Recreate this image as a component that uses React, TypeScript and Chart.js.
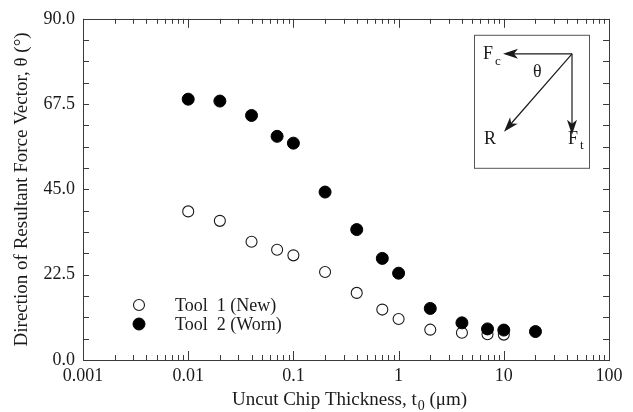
import React, { useEffect, useRef } from 'react';
import { Chart, registerables } from 'chart.js';

Chart.register(...registerables);

// ---- data ----
const thicknessNew = [0.01, 0.02, 0.04, 0.07, 0.1, 0.2, 0.4, 0.7, 1, 2, 4, 7, 10];
const angleNew = [39.2, 36.7, 31.2, 29.1, 27.6, 23.2, 17.7, 13.3, 10.8, 8.0, 7.2, 6.8, 6.7];
const thicknessWorn = [0.01, 0.02, 0.04, 0.07, 0.1, 0.2, 0.4, 0.7, 1, 2, 4, 7, 10, 20];
const angleWorn = [68.8, 68.3, 64.5, 59.0, 57.2, 44.3, 34.4, 26.8, 22.9, 13.6, 9.8, 8.2, 7.9, 7.5];
const seriesLabels = ['Tool  1 (New)', 'Tool  2 (Worn)'];
const xTickValues = [0.001, 0.01, 0.1, 1, 10, 100];
const yTickValues = [0, 22.5, 45, 67.5, 90];
const yMinorStep = 5.625;
const xTitleMain = 'Uncut Chip Thickness, t';
const xTitleSub = '0';
const xTitleTail = ' (\u03bcm)';
const yTitle = 'Direction of Resultant Force Vector, \u03b8 (\u00b0)';

const FONT = '"Liberation Serif", "Times New Roman", serif';
const INK = '#1a1a1a';
const FRAME = '#3a3a3a';

function arrow(ctx: CanvasRenderingContext2D, x0: number, y0: number, x1: number, y1: number) {
  const ang = Math.atan2(y1 - y0, x1 - x0);
  const len = 15;
  const hw = 5;
  ctx.beginPath();
  ctx.moveTo(x0, y0);
  ctx.lineTo(x1 - Math.cos(ang) * 9, y1 - Math.sin(ang) * 9);
  ctx.stroke();
  ctx.beginPath();
  ctx.moveTo(x1, y1);
  const bx = x1 - Math.cos(ang) * len;
  const by = y1 - Math.sin(ang) * len;
  const nx = -Math.sin(ang);
  const ny = Math.cos(ang);
  ctx.lineTo(bx + nx * hw, by + ny * hw);
  ctx.lineTo(x1 - Math.cos(ang) * (len - 4), y1 - Math.sin(ang) * (len - 4));
  ctx.lineTo(bx - nx * hw, by - ny * hw);
  ctx.closePath();
  ctx.fill();
}

const framePlugin = {
  id: 'frameTicks',
  beforeDatasetsDraw(chart: any) {
    const { ctx, chartArea: ca, scales } = chart;
    const xs = scales.x;
    const ys = scales.y;
    ctx.save();
    ctx.strokeStyle = FRAME;
    ctx.lineWidth = 1;
    ctx.strokeRect(Math.round(ca.left) + 0.5, Math.round(ca.top) + 0.5, Math.round(ca.right - ca.left), Math.round(ca.bottom - ca.top));
    ctx.beginPath();
    // x ticks (log), inward on bottom and top
    for (let i = 0; i < xTickValues.length; i++) {
      const d = xTickValues[i];
      const px = Math.round(xs.getPixelForValue(d)) + 0.5;
      ctx.moveTo(px, ca.bottom); ctx.lineTo(px, ca.bottom - 9);
      ctx.moveTo(px, ca.top); ctx.lineTo(px, ca.top + 9);
      if (i < xTickValues.length - 1) {
        for (let m = 2; m <= 9; m++) {
          const mx = Math.round(xs.getPixelForValue(d * m)) + 0.5;
          ctx.moveTo(mx, ca.bottom); ctx.lineTo(mx, ca.bottom - 5);
          ctx.moveTo(mx, ca.top); ctx.lineTo(mx, ca.top + 5);
        }
      }
    }
    // y ticks, inward on left and right
    const yMax = yTickValues[yTickValues.length - 1];
    for (let v = yTickValues[0]; v <= yMax + 1e-6; v += yMinorStep) {
      const py = Math.round(ys.getPixelForValue(v)) + 0.5;
      ctx.moveTo(ca.left, py); ctx.lineTo(ca.left + 6, py);
      ctx.moveTo(ca.right, py); ctx.lineTo(ca.right - 6, py);
    }
    ctx.stroke();
    ctx.restore();
  },
  afterDraw(chart: any) {
    const { ctx, chartArea: ca } = chart;
    ctx.save();
    // legend (inside plot, lower left)
    const ds = chart.data.datasets;
    ctx.font = `18px ${FONT}`;
    ctx.textBaseline = 'middle';
    ctx.textAlign = 'left';
    ds.forEach((d: any, i: number) => {
      const cy = ca.bottom - 55 + i * 19;
      const cx = ca.left + 56;
      ctx.beginPath();
      ctx.arc(cx, cy, d.pointRadius, 0, Math.PI * 2);
      ctx.fillStyle = d.backgroundColor;
      ctx.fill();
      ctx.lineWidth = d.borderWidth;
      ctx.strokeStyle = d.borderColor;
      ctx.stroke();
      ctx.fillStyle = INK;
      ctx.fillText(d.label, ca.left + 92, cy + 1);
    });

    // x-axis title with subscript
    ctx.textBaseline = 'alphabetic';
    ctx.fillStyle = INK;
    ctx.font = `19px ${FONT}`;
    let tx = ca.left + 149;
    const ty = chart.height - 7;
    ctx.fillText(xTitleMain, tx, ty);
    tx += ctx.measureText(xTitleMain).width;
    ctx.font = `14px ${FONT}`;
    ctx.fillText(xTitleSub, tx + 1, ty + 5);
    tx += ctx.measureText(xTitleSub).width + 1;
    ctx.font = `19px ${FONT}`;
    ctx.fillText(xTitleTail, tx, ty);

    // inset force diagram
    const bl = ca.right - 135;
    const bt = ca.top + 16;
    const bw = 115;
    const bh = 133;
    ctx.strokeStyle = '#555';
    ctx.lineWidth = 1;
    ctx.strokeRect(bl + 0.5, bt + 0.5, bw, bh);
    ctx.strokeStyle = INK;
    ctx.fillStyle = INK;
    ctx.lineWidth = 1.2;
    const ox = bl + 98;
    const oy = bt + 19;
    arrow(ctx, ox, oy, bl + 29, oy);
    arrow(ctx, ox, oy, ox, bt + 100);
    arrow(ctx, ox, oy, bl + 30, bt + 97);
    ctx.font = `18px ${FONT}`;
    ctx.fillText('F', bl + 9, bt + 24);
    ctx.fillText('\u03b8', bl + 59, bt + 42);
    ctx.fillText('R', bl + 10, bt + 109);
    ctx.fillText('F', bl + 94, bt + 109);
    ctx.font = `13px ${FONT}`;
    ctx.fillText('c', bl + 21, bt + 30);
    ctx.fillText('t', bl + 106, bt + 114);
    ctx.restore();
  },
};

export default function App() {
  const ref = useRef<HTMLCanvasElement | null>(null);
  useEffect(() => {
    if (!ref.current) return;
    const chart = new Chart(ref.current, {
      type: 'scatter',
      data: {
        datasets: [
          {
            label: seriesLabels[0],
            data: thicknessNew.map((x, i) => ({ x, y: angleNew[i] })),
            pointRadius: 5.5,
            pointHoverRadius: 5.5,
            backgroundColor: '#ffffff',
            borderColor: INK,
            borderWidth: 1.1,
            order: 1,
          },
          {
            label: seriesLabels[1],
            data: thicknessWorn.map((x, i) => ({ x, y: angleWorn[i] })),
            pointRadius: 6,
            pointHoverRadius: 6,
            backgroundColor: '#000000',
            borderColor: '#000000',
            borderWidth: 1,
            order: 0,
          },
        ],
      },
      options: {
        responsive: false,
        animation: false,
        layout: { padding: { left: 0, top: 17, right: 24, bottom: 0 } },
        plugins: {
          legend: { display: false },
          tooltip: { enabled: false },
          title: { display: false },
        },
        scales: {
          x: {
            type: 'logarithmic',
            min: 0.001,
            max: 100,
            grid: { display: false, drawTicks: false },
            border: { display: false },
            afterBuildTicks: (scale: any) => {
              scale.ticks = xTickValues.map((value) => ({ value }));
            },
            afterFit: (scale: any) => {
              scale.height = 52;
            },
            ticks: {
              autoSkip: false,
              maxRotation: 0,
              padding: 5,
              color: INK,
              font: { family: FONT, size: 18 },
              callback: (v: any) => String(v),
            },
          },
          y: {
            type: 'linear',
            min: 0,
            max: 90,
            grid: { display: false, drawTicks: false },
            border: { display: false },
            afterBuildTicks: (scale: any) => {
              scale.ticks = yTickValues.map((value) => ({ value }));
            },
            afterFit: (scale: any) => {
              scale.width = 83;
            },
            title: {
              display: true,
              text: yTitle,
              color: INK,
              font: { family: FONT, size: 19 },
              padding: { top: 11, bottom: 0 },
            },
            ticks: {
              autoSkip: false,
              padding: 8,
              color: INK,
              font: { family: FONT, size: 18 },
              callback: (v: any) => Number(v).toFixed(1),
            },
          },
        },
      },
      plugins: [framePlugin],
    } as any);
    return () => chart.destroy();
  }, []);
  return (
    <div style={{ position: 'fixed', left: 0, top: 0, width: 633, height: 412, background: '#fff' }}>
      <canvas ref={ref} width={633} height={412} style={{ display: 'block' }} />
    </div>
  );
}
